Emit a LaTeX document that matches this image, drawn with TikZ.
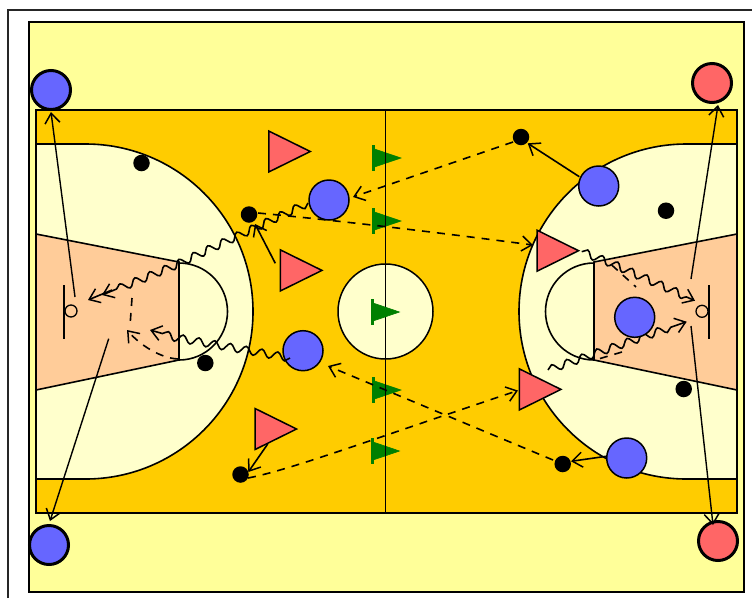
\documentclass[tikz,border=0pt]{standalone}
\usetikzlibrary{arrows.meta,decorations.pathmorphing,shapes.geometric,calc}
\definecolor{sand}{HTML}{FFFF99}
\definecolor{court}{HTML}{FFCC00}
\definecolor{pale}{HTML}{FFFFCC}
\definecolor{lane}{HTML}{FFCC99}
\definecolor{blueP}{HTML}{6666FF}
\definecolor{redP}{HTML}{FF6666}
\definecolor{flagG}{HTML}{008000}
\tikzset{
  lines/.style={line width=1.6pt,draw=black},
  player/.style={circle,draw=black,line width=1.5pt,inner sep=0pt,minimum size=40pt},
  blueplayer/.style={player,fill=blueP},
  corner/.style={player,line width=3pt,minimum size=39pt},
  dot/.style={circle,fill=black,inner sep=0pt,minimum size=16.5pt},
  rim/.style={circle,draw=black,line width=1.3pt,inner sep=0pt,minimum size=12pt},
  cone/.style={draw=black,line width=1.5pt,fill=redP,isosceles triangle,isosceles triangle stretches,inner sep=0pt,minimum width=41pt,minimum height=41.5pt,anchor=lower side},
  flagshape/.style={fill=flagG,draw=flagG,line width=.6pt},
  tip/.style={-{Straight Barb[length=10pt,width=15pt,line width=1.5pt]}},
  pass/.style={line width=1.6pt,draw=black,tip},
  longpass/.style={pass,line width=1.4pt},
  dashpass/.style={pass,dash pattern=on 8pt off 7pt},
  plaindash/.style={line width=1.6pt,draw=black,dash pattern=on 8pt off 7pt},
  dribble/.style={pass,decorate,decoration={snake,amplitude=3.8pt,segment length=16pt,post length=9pt}}
}
\newcommand{\flagat}[3]{\coordinate (#1) at (#2,#3);
  \path[flagshape] ($(#1)+(2.5,-9)$)--($(#1)+(29,0)$)--($(#1)+(2.5,9)$)--cycle;
  \fill[flagG] ($(#1)+(0,-13)$) rectangle ($(#1)+(3.4,13)$);}
\begin{document}
\begin{tikzpicture}[x=1pt,y=-1pt]
\useasboundingbox (0,0) rectangle (752,598);
\fill[white] (0,0) rectangle (752,598);
\draw[line width=2pt,draw=black!85] (8,598)--(8,10)--(752,10);
\draw[line width=1.3pt,fill=sand] (29,22) rectangle (744,592);
% court
\draw[lines,fill=court] (36,110) rectangle (737,513);
\draw[lines,fill=pale] (36,144)--(85.5,144) arc[start angle=-90,end angle=90,radius=167.5]--(36,479)--cycle;
\draw[lines,fill=pale] (737,144)--(686.5,144) arc[start angle=-90,end angle=-270,radius=167.5]--(737,479)--cycle;
\draw[lines,fill=lane] (36,234)--(179,262)--(179,360)--(36,390)--cycle;
\draw[lines,fill=lane] (737,234)--(594,262)--(594,360)--(737,390)--cycle;
\draw[lines,fill=pale] (179,263) arc[start angle=-90,end angle=90,radius=48.5]--cycle;
\draw[lines,fill=pale] (594,263) arc[start angle=-90,end angle=-270,radius=48.5]--cycle;
\node[circle,draw=black,line width=1.5pt,fill=pale,inner sep=0pt,minimum size=95pt] (centre) at (385.5,311.5) {};
% flags under the line
\flagat{f1}{372}{158}
\flagat{f2}{372}{221}
\flagat{f4}{372}{390}
\flagat{f5}{370.5}{451}
\draw[lines] (385.5,110)--(385.5,513);
\flagat{f3}{370.5}{312}
% baskets
\draw[lines] (64,285)--(64,339);
\draw[lines] (709,285)--(709,339);
\node[rim] (rimL) at (71,311) {};
\node[rim] (rimR) at (702,311.3) {};
% players
\node[blueplayer] (b1) at (329,200) {};
\node[blueplayer] (b2) at (598.7,186) {};
\node[blueplayer] (b3) at (303,350.7) {};
\node[blueplayer] (b5) at (626.7,458) {};
\node[corner,fill=blueP] (cb1) at (51,90) {};
\node[corner,fill=blueP] (cb2) at (49,545) {};
\node[corner,fill=redP] (cr1) at (712,83) {};
\node[corner,fill=redP] (cr2) at (718,541) {};
\node[cone] (t1) at (268,151.5) {};
\node[cone] (t2) at (279.7,270.4) {};
\node[cone] (t3) at (254.3,429) {};
\node[cone] (t4) at (536.3,250.7) {};
\node[cone] (t5) at (518.7,389.4) {};
\node[dot] (d1) at (141.5,163) {};
\node[dot] (d2) at (249,214.5) {};
\node[dot] (d3) at (521,137) {};
\node[dot] (d4) at (666,210.7) {};
\node[dot] (d5) at (205.3,363) {};
\node[dot] (d6) at (240.5,474.5) {};
\node[dot] (d7) at (562.7,464) {};
\node[dot] (d8) at (683.7,389) {};
% free ends
\coordinate (a1) at (75,297);
\coordinate (a1e) at (51,112);
\coordinate (a2) at (108.7,338.7);
\coordinate (a2e) at (50,521);
\coordinate (a3) at (691,279);
\coordinate (a3e) at (718,105);
\coordinate (a4) at (691,326);
\coordinate (a4e) at (713,525);
\coordinate (a5) at (275.3,263.3);
\coordinate (a5e) at (255,224);
\coordinate (a6) at (579.3,176.7);
\coordinate (a6e) at (527.7,143.3);
\coordinate (a7) at (606,456.3);
\coordinate (a7e) at (571,461.3);
\coordinate (a8) at (267.7,444);
\coordinate (a8e) at (248.3,472);
% solid passes
\draw[longpass] (a1)--(a1e);
\draw[longpass] (a2)--(a2e);
\draw[longpass] (a3)--(a3e);
\draw[longpass] (a4)--(a4e);
\draw[pass] (a5)--(a5e);
\draw[pass] (a6)--(a6e);
\draw[pass] (a7)--(a7e);
\draw[pass] (a8)--(a8e);
% dashed passes
\coordinate (p1s) at (513,142);
\coordinate (p1e) at (353,197);
\draw[dashpass] (p1s)--(p1e);
\coordinate (p2s) at (258,213);
\coordinate (p2e) at (533,245);
\draw[dashpass] (p2s) .. controls (300,217) and (380,225) .. (p2e);
\coordinate (p3s) at (553,460);
\coordinate (p3e) at (328,366);
\draw[dashpass] (p3s)--(p3e);
\coordinate (p4s) at (248,478);
\coordinate (p4e) at (518,390.5);
\draw[dashpass] (p4s) .. controls (290,470) and (370,440) .. (p4e);
\coordinate (p5s) at (178,359);
\coordinate (p5e) at (127,330);
\draw[dashpass] (p5s) .. controls (160,358) and (140,345) .. (p5e);
\coordinate (p6s) at (132,298);
\coordinate (p6e) at (130,326);
\draw[plaindash] (p6s)--(p6e);
\coordinate (p7s) at (611.7,265);
\coordinate (p7e) at (636,287);
\draw[plaindash] (p7s)--(p7e);
\coordinate (p8s) at (622,352);
\coordinate (p8e) at (595,360);
\draw[plaindash] (p8s)--(p8e);
% dribbles
\coordinate (w1s) at (308,203);
\coordinate (w1m) at (180,263);
\coordinate (w1e) at (102,295);
\coordinate (w1f) at (112,290);
\coordinate (w1g) at (88,300);
\draw[dribble] (w1s)--(w1m)--(w1e);
\draw[pass] (w1f)--(w1g);
\coordinate (w2s) at (290,358);
\coordinate (w2m) at (178,338);
\coordinate (w2e) at (150,330);
\draw[dribble] (w2s)--(w2m)--(w2e);
\coordinate (w3s) at (581.7,251.7);
\coordinate (w3m) at (603,260);
\coordinate (w3e) at (695,300.7);
\draw[dribble] (w3s)--(w3m)--(w3e);
\coordinate (w4s) at (548,370);
\coordinate (w4e) at (686.7,321.7);
\draw[dribble] (w4s)--(w4e);
\node[blueplayer] (b4) at (634.7,317.3) {};
\end{tikzpicture}
\end{document}
